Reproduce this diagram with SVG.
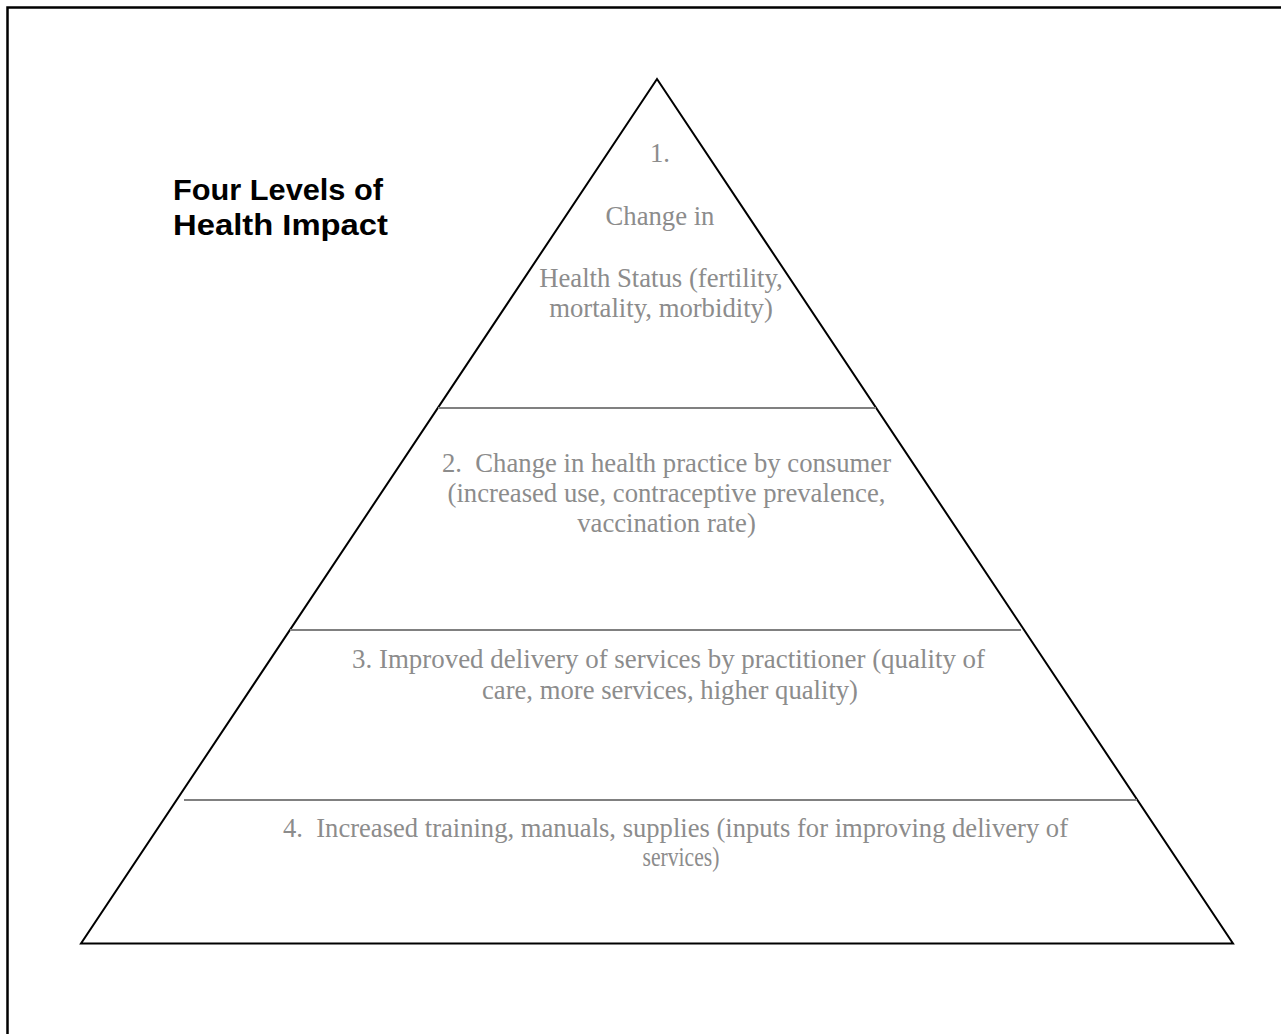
<svg xmlns="http://www.w3.org/2000/svg" width="1281" height="1034" viewBox="0 0 1281 1034">
<style>
.lvl{font-family:"Liberation Serif","Times New Roman",serif;font-size:26.7px;fill:#8c8c8c;text-anchor:middle}
.cmp{font-size:28px}
.div{stroke:#808080;stroke-width:2;fill:none}
.title{font-family:"Liberation Sans",Arial,sans-serif;font-size:29.5px;font-weight:bold;fill:#000}
</style>
<rect width="1281" height="1034" fill="#fff"/>
<g id="frame" fill="none" stroke="#000" stroke-width="2.5">
<polyline points="7.5,1034 7.5,7.5 1281,7.5"/>
</g>
<g id="title">
<text class="title" x="173" y="200" textLength="210" lengthAdjust="spacingAndGlyphs">Four Levels of</text>
<text class="title" x="173" y="235" textLength="215" lengthAdjust="spacingAndGlyphs">Health Impact</text>
</g>
<g id="pyramid">
<polygon points="657,79 81,943.5 1233,943.5" fill="none" stroke="#000" stroke-width="2"/>
</g>
<g id="connectors">
<line class="div" x1="438" y1="408" x2="876" y2="408"/>
<line class="div" x1="290" y1="630" x2="1021" y2="630"/>
<line class="div" x1="184" y1="800" x2="1137" y2="800"/>
</g>
<g id="level1">
<text class="lvl" x="660" y="162">1.</text>
<text class="lvl" x="660" y="225">Change in</text>
<text class="lvl" x="661" y="287">Health Status (fertility,</text>
<text class="lvl" x="661" y="317">mortality, morbidity)</text>
</g>
<g id="level2">
<text class="lvl" x="666.5" y="472" xml:space="preserve">2.  Change in health practice by consumer</text>
<text class="lvl" x="666.5" y="502">(increased use, contraceptive prevalence,</text>
<text class="lvl" x="666.5" y="532">vaccination rate)</text>
</g>
<g id="level3">
<text class="lvl cmp" x="668.5" y="668" textLength="633" lengthAdjust="spacingAndGlyphs">3. Improved delivery of services by practitioner (quality of</text>
<text class="lvl cmp" x="670" y="699" textLength="376" lengthAdjust="spacingAndGlyphs">care, more services, higher quality)</text>
</g>
<g id="level4">
<text class="lvl cmp" x="675.5" y="837" textLength="785" lengthAdjust="spacingAndGlyphs" xml:space="preserve">4.  Increased training, manuals, supplies (inputs for improving delivery of</text>
<text class="lvl cmp" x="681" y="866" textLength="77" lengthAdjust="spacingAndGlyphs">services)</text>
</g>
</svg>
